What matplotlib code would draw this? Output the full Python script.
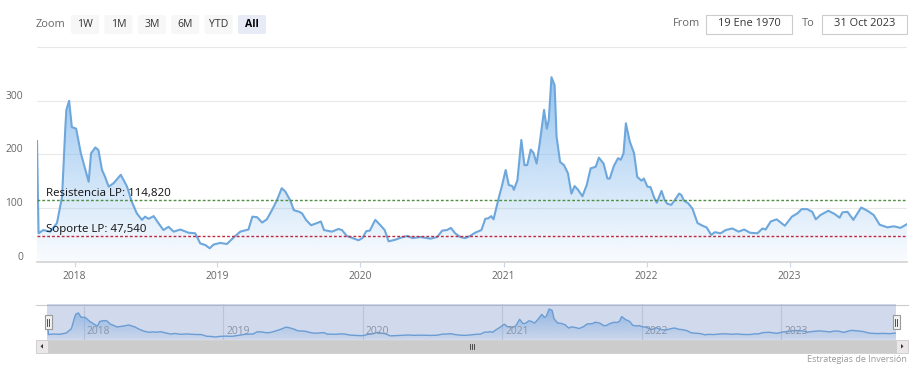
import numpy as np
import matplotlib
matplotlib.use('Agg')
import matplotlib.pyplot as plt
import matplotlib.dates as mdates
from matplotlib.patches import Rectangle, FancyBboxPatch, Polygon

plt.rcParams['font.family'] = ['Open Sans', 'DejaVu Sans']

# ---------------- data ----------------
dates = [
    "2017-09-27", "2017-10-01", "2017-10-13", "2017-10-31", "2017-11-17", "2017-11-30", "2017-12-08", "2017-12-11", "2017-12-18", "2017-12-25",
    "2018-01-05", "2018-01-17", "2018-02-06", "2018-02-12", "2018-02-23", "2018-03-03", "2018-03-12", "2018-03-20", "2018-03-29", "2018-04-10",
    "2018-04-29", "2018-05-15", "2018-05-27", "2018-06-09", "2018-06-22", "2018-06-30", "2018-07-09", "2018-07-22", "2018-08-03", "2018-08-16",
    "2018-08-29", "2018-09-11", "2018-09-28", "2018-10-19", "2018-11-05", "2018-11-18", "2018-12-01", "2018-12-12", "2018-12-22",
    "2019-01-08", "2019-01-25", "2019-02-11", "2019-02-28", "2019-03-21", "2019-03-31", "2019-04-12", "2019-04-25", "2019-05-07", "2019-05-20",
    "2019-06-02", "2019-06-14", "2019-06-23", "2019-07-06", "2019-07-15", "2019-07-29", "2019-08-05", "2019-08-15", "2019-08-28", "2019-09-12",
    "2019-09-22", "2019-09-30", "2019-10-20", "2019-11-06", "2019-11-15", "2019-11-27", "2019-12-16", "2019-12-27",
    "2020-01-06", "2020-01-16", "2020-01-25", "2020-02-08", "2020-02-21", "2020-03-03", "2020-03-13", "2020-03-30", "2020-04-14", "2020-04-30",
    "2020-05-13", "2020-06-02", "2020-06-28", "2020-07-15", "2020-07-28", "2020-08-09", "2020-08-19", "2020-08-30", "2020-09-12", "2020-09-25",
    "2020-10-07", "2020-10-20", "2020-11-05", "2020-11-15", "2020-11-23", "2020-11-30", "2020-12-06", "2020-12-19", "2020-12-27",
    "2021-01-06", "2021-01-14", "2021-01-23", "2021-01-27", "2021-02-05", "2021-02-15", "2021-02-23", "2021-03-02", "2021-03-11", "2021-03-18",
    "2021-03-26", "2021-04-03", "2021-04-14", "2021-04-21", "2021-04-26", "2021-05-03", "2021-05-11", "2021-05-16", "2021-05-25", "2021-06-04",
    "2021-06-14", "2021-06-23", "2021-07-01", "2021-07-10", "2021-07-21", "2021-08-01", "2021-08-11", "2021-08-24", "2021-09-01", "2021-09-13",
    "2021-09-23", "2021-09-29", "2021-10-09", "2021-10-20", "2021-10-27", "2021-11-03", "2021-11-09", "2021-11-19", "2021-11-30", "2021-12-08",
    "2021-12-19", "2021-12-25",
    "2022-01-03", "2022-01-11", "2022-01-20", "2022-01-27", "2022-02-08", "2022-02-16", "2022-02-23", "2022-03-05", "2022-03-14", "2022-03-25",
    "2022-03-31", "2022-04-06", "2022-04-17", "2022-04-28", "2022-05-11", "2022-05-24", "2022-06-03", "2022-06-15", "2022-06-24", "2022-07-09",
    "2022-07-22", "2022-08-08", "2022-08-24", "2022-09-07", "2022-09-22", "2022-10-11", "2022-10-24", "2022-11-01", "2022-11-14", "2022-11-29",
    "2022-12-20",
    "2023-01-07", "2023-01-21", "2023-02-01", "2023-02-15", "2023-02-28", "2023-03-09", "2023-03-21", "2023-04-10", "2023-04-26", "2023-05-09",
    "2023-05-16", "2023-05-29", "2023-06-13", "2023-07-03", "2023-07-19", "2023-08-04", "2023-08-19", "2023-09-08", "2023-09-25", "2023-10-11",
    "2023-10-28",
]
values = [
    225, 53, 59, 56, 72, 121, 245, 283, 300, 251,
    248, 202, 149, 202, 213, 208, 171, 158, 140, 146,
    162, 140, 112, 90, 78, 84, 80, 85, 72, 59,
    65, 56, 60, 54, 53, 34, 31, 25, 32,
    35, 33, 45, 56, 60, 84, 83, 73, 79, 96,
    115, 137, 131, 114, 96, 93, 90, 78, 68, 72,
    75, 59, 56, 61, 59, 48, 43, 40,
    44, 57, 58, 78, 68, 59, 38, 41, 45, 48,
    44, 46, 43, 46, 58, 59, 63, 53, 46, 44,
    48, 54, 59, 80, 81, 85, 79, 118, 140,
    171, 143, 141, 134, 152, 227, 180, 180, 209, 203,
    183, 221, 283, 248, 264, 344, 329, 233, 186, 180,
    165, 127, 141, 134, 122, 143, 174, 177, 194, 183,
    155, 155, 178, 193, 190, 202, 258, 224, 202, 158,
    151, 155,
    140, 139, 120, 110, 132, 115, 108, 106, 115, 127,
    124, 114, 109, 99, 72, 67, 64, 50, 55, 53,
    59, 62, 56, 60, 54, 53, 62, 60, 75, 79,
    67,
    84, 90, 98, 98, 93, 79, 87, 95, 89, 82,
    92, 93, 78, 101, 95, 87, 69, 64, 66, 63,
    70,
]
resistance = 114.820
support = 47.540
resistance_label = "Resistencia LP: 114,820"
support_label = "Soporte LP: 47,540"
year_ticks = ["2018-01-01", "2019-01-01", "2020-01-01", "2021-01-01", "2022-01-01", "2023-01-01"]
year_labels = ["2018", "2019", "2020", "2021", "2022", "2023"]
y_ticks = [0, 100, 200, 300]
zoom_buttons = ["1W", "1M", "3M", "6M", "YTD", "All"]
from_text = "19 Ene 1970"
to_text = "31 Oct 2023"
credit = "Estrategias de Inversión"

# ---------------- layout helpers ----------------
W, H = 917, 371
PT = 72 / 100.0
fig = plt.figure(figsize=(W / 100, H / 100), dpi=100)


def fr(x0, y0, x1, y1):
    return [x0 / W, 1 - y1 / H, (x1 - x0) / W, (y1 - y0) / H]


LINE = '#6ea7dc'
BASE = (124 / 255, 181 / 255, 236 / 255)

xn = mdates.date2num(np.array(dates, dtype='datetime64[D]'))
vals = np.array(values, dtype=float)
tick_n = mdates.date2num(np.array(year_ticks, dtype='datetime64[D]'))

# background overlay (pixel coordinates)
bg = fig.add_axes([0, 0, 1, 1], zorder=0)
bg.set_xlim(0, W)
bg.set_ylim(H, 0)
bg.axis('off')


def gradient_fill(a, x, y, ytop, a_top, a_bot):
    poly = a.fill_between(x, y, 0, facecolor='none', edgecolor='none')
    g = np.linspace(0, 1, 256).reshape(-1, 1)
    rgba = np.zeros((256, 1, 4))
    rgba[..., 0], rgba[..., 1], rgba[..., 2] = BASE
    rgba[..., 3] = a_bot + (a_top - a_bot) * g
    im = a.imshow(rgba, extent=[x[0], x[-1], 0, ytop], origin='lower',
                  aspect='auto', zorder=1, interpolation='bilinear')
    im.set_clip_path(poly.get_paths()[0], transform=a.transData)


# ---------------- main chart ----------------
ax = fig.add_axes(fr(37, 45, 907, 261.7), zorder=2)
ymax = 404
ax.set_xlim(xn[0], xn[-1])
ax.set_ylim(0, ymax)
ax.patch.set_alpha(0)
for s in ['top', 'right', 'left']:
    ax.spines[s].set_visible(False)
ax.spines['bottom'].set_color('#d6d6d6')
ax.spines['bottom'].set_linewidth(1.3)
for v in [100, 200, 300, 400]:
    ax.axhline(v, color='#e8e8e8', lw=0.8, zorder=0)

gradient_fill(ax, xn, vals, ymax, 0.92, 0.04)
ax.plot(xn, vals, color=LINE, lw=1.5, zorder=3, solid_joinstyle='round')

ax.axhline(resistance, color='#4f8f43', lw=1.0, ls=(0, (2.0, 1.5)), zorder=4)
ax.axhline(support, color='#c0283f', lw=1.0, ls=(0, (2.0, 1.5)), zorder=4)
for val, lab in [(resistance, resistance_label), (support, support_label)]:
    ax.annotate(lab, xy=(0, val), xycoords=('axes fraction', 'data'),
                xytext=(9, 7), textcoords='offset pixels', ha='left', va='center',
                fontsize=11.5 * PT, color='#111111', zorder=5)

ax.set_yticks([])
for v in y_ticks:
    ax.annotate(str(v), xy=(0, v), xycoords=('axes fraction', 'data'),
                xytext=(-14, 4.5), textcoords='offset pixels', ha='right', va='center',
                fontsize=10.3 * PT, color='#666666')

ax.set_xticks(tick_n)
ax.set_xticklabels(year_labels)
ax.tick_params(axis='x', length=5 * PT, width=0.8, color='#ccd6eb', pad=3,
               labelsize=10.3 * PT, labelcolor='#666666')

# ---------------- top controls ----------------
bg.text(36, 24.5, "Zoom", ha='left', va='center', fontsize=11 * PT, color='#666666')
bx = 71
for lab in zoom_buttons:
    sel = lab == "All"
    bg.add_patch(FancyBboxPatch((bx, 15), 28, 19, boxstyle='round,pad=0,rounding_size=2',
                                fc='#e6ebf5' if sel else '#f7f7f7', ec='none'))
    bg.text(bx + 14, 24.5, lab, ha='center', va='center', fontsize=10.5 * PT,
            color='#000000' if sel else '#333333', fontweight='bold' if sel else 'normal')
    bx += 33.4

bg.text(700, 24, "From", ha='right', va='center', fontsize=11 * PT, color='#666666')
bg.add_patch(Rectangle((706, 14.5), 86, 19.5, fc='white', ec='#cccccc', lw=0.8))
bg.text(749, 24, from_text, ha='center', va='center', fontsize=11 * PT, color='#333333')
bg.text(815, 24, "To", ha='right', va='center', fontsize=11 * PT, color='#666666')
bg.add_patch(Rectangle((822, 14.5), 85, 19.5, fc='white', ec='#cccccc', lw=0.8))
bg.text(864.5, 24, to_text, ha='center', va='center', fontsize=11 * PT, color='#333333')

# ---------------- navigator ----------------
nav = fig.add_axes(fr(47, 304, 896, 340), zorder=1)
nymin, nymax = -9, 401
nav.set_xlim(xn[0], xn[-1])
nav.set_ylim(nymin, nymax)
nav.axis('off')
for t in tick_n:
    nav.axvline(t, color='#e0e0e0', lw=0.8, zorder=0)
gradient_fill(nav, xn, vals, nymax, 0.8, 0.08)
nav.plot(xn, vals, color=LINE, lw=1.0, zorder=3)
for t, lab in zip(tick_n, year_labels):
    nav.annotate(lab, xy=(t, 0), xycoords=('data', 'axes fraction'), xytext=(3, 8),
                 textcoords='offset pixels', ha='left', va='center',
                 fontsize=10.3 * PT, color='#999999', zorder=4)
nav.add_patch(Rectangle((0, 0), 1, 1, transform=nav.transAxes,
                        fc=(102 / 255, 133 / 255, 194 / 255, 0.3), ec='none', zorder=5))

# navigator outline
bg.plot([36, 908], [304.5, 304.5], color='#cccccc', lw=0.8)

# handles
top = fig.add_axes([0, 0, 1, 1], zorder=5)
top.set_xlim(0, W)
top.set_ylim(H, 0)
top.axis('off')
for hx in [48, 896]:
    top.add_patch(Rectangle((hx - 3.5, 315), 7, 14, fc='#f2f2f2', ec='#999999', lw=0.8))
    for dx in [-1, 1]:
        top.plot([hx + dx, hx + dx], [318.5, 325.5], color='#333333', lw=0.6)

# scrollbar
top.add_patch(Rectangle((36, 340), 872, 12.5, fc='#f2f2f2', ec='#f2f2f2', lw=0.5))
top.add_patch(Rectangle((48, 340), 848, 12.5, fc='#cccccc', ec='#cccccc', lw=0.5))
top.add_patch(Rectangle((36, 340), 12, 12.5, fc='#ebe7e8', ec='#cccccc', lw=0.6))
top.add_patch(Rectangle((896, 340), 12, 12.5, fc='#ebe7e8', ec='#cccccc', lw=0.6))
top.add_patch(Polygon([[40.5, 346.3], [43, 344], [43, 348.6]], closed=True, fc='#333333', ec='none'))
top.add_patch(Polygon([[903.5, 346.3], [901, 344], [901, 348.6]], closed=True, fc='#333333', ec='none'))
for gx in [469.5, 471.5, 473.5]:
    top.plot([gx, gx], [343.5, 349], color='#333333', lw=0.6)

top.text(907, 360, credit, ha='right', va='center', fontsize=9 * PT, color='#999999')

fig.savefig('out.png', dpi=100, facecolor='white')
